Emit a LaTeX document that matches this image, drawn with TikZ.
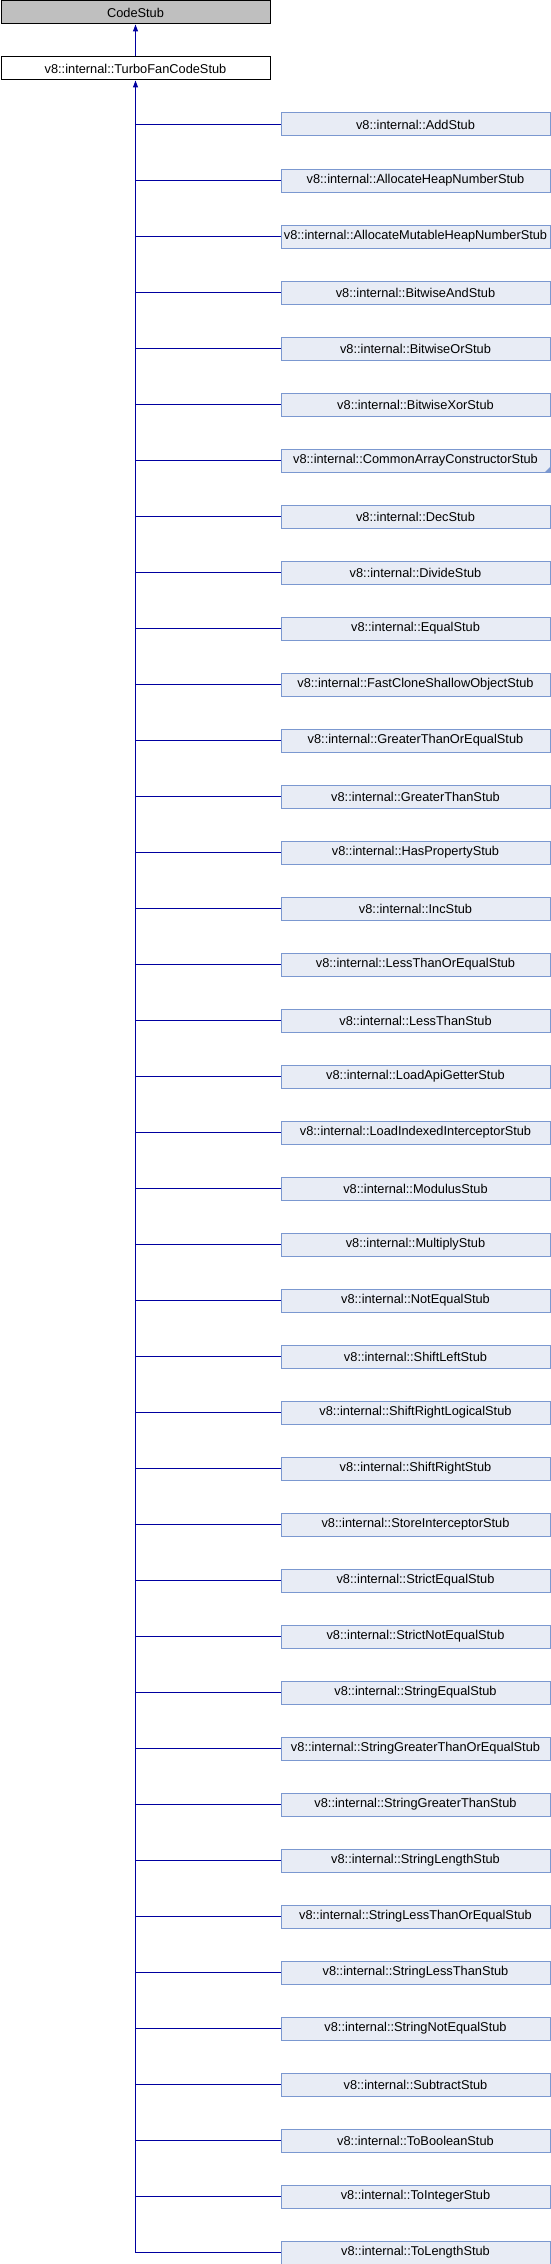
\documentclass[tikz,border=0pt]{standalone}
\usepackage{fontspec}
\setmainfont{Liberation Sans}
\usetikzlibrary{arrows.meta}
\definecolor{childfill}{RGB}{232,236,245}
\definecolor{childdraw}{RGB}{123,152,208}
\definecolor{linkc}{RGB}{0,0,160}
\definecolor{basefill}{RGB}{191,191,191}
\tikzset{
  x=1pt, y=1pt,
  basebox/.style={draw=black, line width=1pt, minimum width=269pt, minimum height=23pt, inner sep=0pt, anchor=north west, font=\fontsize{12.8}{14}\selectfont},
  childbox/.style={draw=childdraw, fill=childfill, line width=1pt, minimum width=269pt, minimum height=23pt, inner sep=0pt, anchor=north west, font=\fontsize{12.8}{14}\selectfont},
  link/.style={draw=linkc, line width=1pt},
  inh/.style={link, -{Triangle[length=7pt,width=5pt]}}
}
\begin{document}
\begin{tikzpicture}
\useasboundingbox (0,0) rectangle (550,-2264);
\node[basebox, fill=basefill] (cs) at (0.5,-0.5) {CodeStub};
\node[basebox, fill=white] (tf) at (0.5,-56.5) {v8::internal::TurboFanCodeStub};
\draw[inh] (tf.north) -- (cs.south);
\foreach \name [count=\i from 0] in {AddStub, AllocateHeapNumberStub, AllocateMutableHeapNumberStub, BitwiseAndStub, BitwiseOrStub, BitwiseXorStub, CommonArrayConstructorStub, DecStub, DivideStub, EqualStub, FastCloneShallowObjectStub, GreaterThanOrEqualStub, GreaterThanStub, HasPropertyStub, IncStub, LessThanOrEqualStub, LessThanStub, LoadApiGetterStub, LoadIndexedInterceptorStub, ModulusStub, MultiplyStub, NotEqualStub, ShiftLeftStub, ShiftRightLogicalStub, ShiftRightStub, StoreInterceptorStub, StrictEqualStub, StrictNotEqualStub, StringEqualStub, StringGreaterThanOrEqualStub, StringGreaterThanStub, StringLengthStub, StringLessThanOrEqualStub, StringLessThanStub, StringNotEqualStub, SubtractStub, ToBooleanStub, ToIntegerStub, ToLengthStub} {
  \node[childbox] (c\i) at (280.5,{-112.5-56*\i}) {v8::internal::\name};
  \draw[link] (c\i.west) -- (c\i.west -| tf.south);
}
\coordinate (jend) at (c38.west -| tf.south);
\draw[inh] (jend) -- (tf.south);
\fill[childdraw] ([xshift=-6pt]c6.south east) -- (c6.south east) -- ([yshift=6pt]c6.south east) -- cycle;
\end{tikzpicture}
\end{document}
